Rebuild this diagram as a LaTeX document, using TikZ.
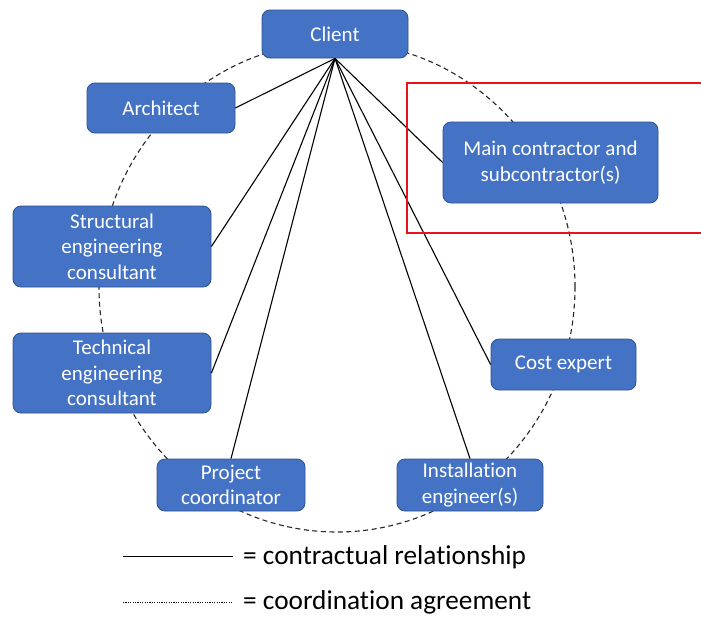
\documentclass[tikz,border=0pt]{standalone}
\usepackage{fontspec}
\setmainfont{Carlito}[Ligatures={NoCommon}]
\definecolor{boxblue}{HTML}{4472C4}
\definecolor{boxedge}{HTML}{2F528F}
\definecolor{markred}{HTML}{E8141B}
\begin{document}
\begin{tikzpicture}[x=1pt,y=-1pt,
  party/.style={draw=boxedge, fill=boxblue, rounded corners=8pt, text=white,
    font=\fontsize{21}{25.5}\selectfont, align=center, inner sep=0pt, line width=0.8pt},
  contract/.style={draw=black, line width=1.1pt},
  coord/.style={draw=black!85, line width=1.1pt, dash pattern=on 5pt off 3.5pt},
  legendtext/.style={font=\fontsize{27.3}{30}\selectfont, anchor=west, inner sep=0pt}]
\useasboundingbox (0,0) rectangle (701,616);

% coordination ring
\draw[coord] (337,287) ellipse [x radius=238pt, y radius=245pt];

% parties
\node[party, minimum width=146pt, minimum height=48pt] (client) at (335,34) {Client};
\node[party, minimum width=148pt, minimum height=50pt] (arch) at (161,108) {Architect};
\node[party, minimum width=215pt, minimum height=81pt] (main) at (550.5,162.5) {Main contractor and\\subcontractor(s)};
\node[party, minimum width=198pt, minimum height=81pt] (struct) at (112,246.5) {Structural\\engineering\\consultant};
\node[party, minimum width=198pt, minimum height=80pt] (tech) at (112,373) {Technical\\engineering\\consultant};
\node[party, minimum width=145pt, minimum height=51pt] (cost) at (563.5,364.5) {Cost expert};
\node[party, minimum width=148pt, minimum height=52pt] (proj) at (231,485) {Project\\coordinator};
\node[party, minimum width=146pt, minimum height=52pt] (inst) at (470,485) {Installation\\engineer(s)};

% contractual relationships
\draw[contract] (client.south) -- (arch.east);
\draw[contract] (client.south) -- (main.west);
\draw[contract] (client.south) -- (struct.east);
\draw[contract] (client.south) -- (tech.east);
\draw[contract] (client.south) -- (proj.north);
\draw[contract] (client.south) -- (inst.north);
\draw[contract] (client.south) -- (cost.west);

% highlight frame
\draw[draw=markred, line width=1.2pt] (407,83) rectangle (703,233);

% legend
\coordinate (l1a) at (123,556);
\coordinate (l1b) at (233,556);
\coordinate (l2a) at (123,602);
\coordinate (l2b) at (233,602);
\draw[black, line width=1pt] (l1a) -- (l1b);
\draw[black, line width=0.8pt, dash pattern=on 1.2pt off 1.2pt] (l2a) -- (l2b);
\node[legendtext] (lt1) at (243,557) {= contractual relationship};
\node[legendtext] (lt2) at (243,602) {= coordination agreement};
\end{tikzpicture}
\end{document}
